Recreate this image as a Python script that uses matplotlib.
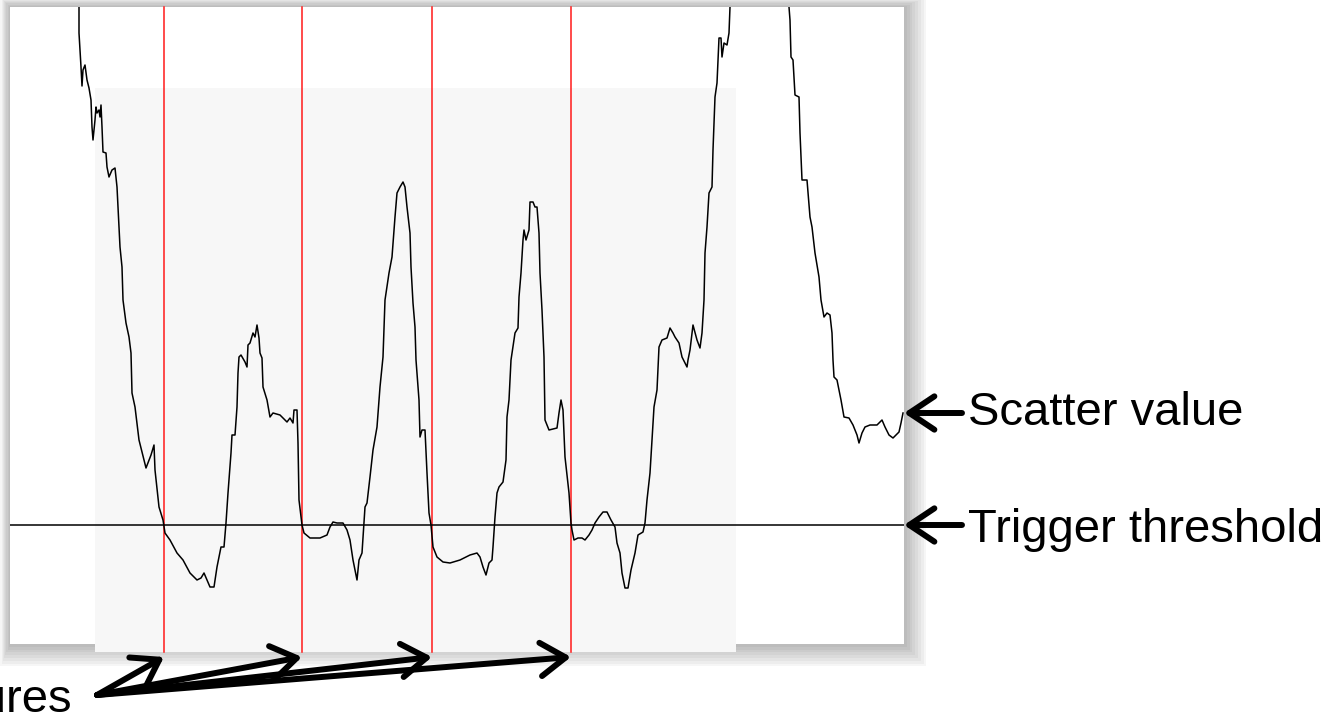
import matplotlib
matplotlib.use("Agg")
import matplotlib.pyplot as plt
from matplotlib.patches import Rectangle

plt.rcParams['font.family'] = ['Liberation Sans', 'DejaVu Sans']

# scatter value trace (sample index, value)
samples = [68, 69, 69, 71, 72, 73, 75, 77, 79, 81, 82, 83, 85, 86, 87, 89, 90, 91, 92, 93,
           96, 97, 99, 102, 105, 107, 109, 110, 112, 113, 116, 119, 121, 122, 125, 129, 136, 141, 144, 145,
           149, 153, 155, 160, 167, 173, 180, 187, 191, 194, 197, 200, 204, 207, 211, 214, 216, 218, 219, 221,
           222, 225, 227, 228, 229, 231, 235, 237, 238, 240, 243, 245, 247, 249, 250, 252, 253, 257, 260, 263,
           270, 277, 280, 283, 284, 287, 288, 289, 291, 292, 294, 300, 310, 317, 320, 323, 327, 333, 337, 340,
           343, 347, 349, 352, 355, 357, 360, 363, 367, 370, 373, 375, 379, 382, 385, 387, 390, 393, 395, 397,
           400, 401, 403, 405, 406, 409, 410, 412, 415, 417, 419, 421, 423, 427, 433, 440, 450, 460, 467, 470,
           473, 476, 479, 482, 483, 485, 487, 489, 493, 496, 497, 499, 501, 505, 508, 509, 511, 513, 514, 516,
           519, 520, 523, 525, 527, 529, 530, 532, 534, 535, 539, 547, 549, 551, 553, 555, 559, 561, 562, 564,
           568, 572, 575, 579, 582, 585, 589, 593, 597, 601, 605, 607, 610, 612, 615, 618, 621, 625, 628, 633,
           635, 637, 640, 642, 644, 647, 649, 652, 657, 660, 663, 665, 669, 672, 677, 678, 680, 683, 687, 690,
           692, 694, 695, 697, 699, 702, 703, 705, 707, 708, 709, 711, 712, 714, 717, 719, 720, 735, 765, 779,
           780, 781, 783, 785, 789, 790, 792, 797, 800, 802, 805, 809, 811, 814, 817, 820, 822, 823, 824, 827,
           831, 834, 839, 843, 847, 849, 852, 855, 860, 867, 872, 875, 879, 883, 886, 889, 891, 893]
values = [680, 637, 611, 577, 558, 574, 579, 564, 556, 544, 517, 504, 524, 537, 531, 534, 527, 539, 517, 492,
          491, 477, 467, 474, 476, 457, 417, 397, 377, 344, 321, 307, 291, 251, 237, 204, 176, 189, 199, 174,
          137, 124, 111, 104, 91, 84, 71, 64, 66, 71, 64, 57, 57, 77, 97, 97, 121, 151, 164, 191,
          209, 209, 237, 271, 287, 289, 282, 277, 299, 301, 311, 307, 319, 306, 291, 286, 257, 244, 227, 231,
          229, 222, 226, 221, 234, 234, 201, 144, 127, 119, 111, 106, 106, 109, 117, 122, 121, 121, 114, 104,
          84, 64, 84, 91, 137, 141, 167, 194, 217, 257, 287, 344, 371, 387, 427, 451, 457, 462, 457, 437,
          411, 377, 341, 317, 284, 244, 207, 214, 214, 171, 131, 119, 97, 87, 82, 81, 84, 89, 91, 87,
          77, 69, 81, 84, 97, 127, 151, 157, 162, 184, 227, 244, 284, 311, 316, 347, 371, 404, 414, 404,
          414, 442, 442, 437, 437, 411, 371, 334, 287, 224, 214, 216, 231, 244, 234, 187, 151, 121, 114, 104,
          106, 106, 104, 109, 114, 121, 127, 132, 132, 124, 117, 101, 91, 71, 56, 56, 74, 91, 109, 112,
          121, 144, 171, 204, 237, 254, 297, 304, 306, 316, 311, 307, 301, 287, 277, 284, 294, 319, 304, 296,
          311, 344, 391, 417, 451, 457, 494, 547, 561, 584, 606, 606, 587, 601, 599, 611, 637, 704, 704, 637,
          624, 587, 584, 549, 547, 511, 464, 464, 427, 417, 391, 367, 344, 327, 331, 329, 311, 284, 267, 264,
          244, 227, 226, 219, 209, 201, 211, 217, 219, 219, 224, 217, 209, 206, 209, 212, 221, 231]

threshold = 119
captures = [154, 292, 422, 561]
window = (85, 726)          # shaded capture window, in samples
labels = ["Scatter value", "Trigger threshold", "Captures"]

fig = plt.figure(figsize=(13.4, 7.24), dpi=100)
W, H = 1340, 724
px0, py0, pw, ph = 10, 80, 894, 637   # panel in figure pixels

# soft drop shadow behind the panel
for i in range(8):
    g = 16 - 2 * i
    fig.patches.append(Rectangle(((px0 - g * 0.6) / W, (py0 - g * 1.4) / H),
                                 (pw + g * 2.0) / W, (ph + g * 2.0) / H,
                                 transform=fig.transFigure, facecolor='black',
                                 alpha=0.035, edgecolor='none', zorder=0))

ax = fig.add_axes([px0 / W, py0 / H, pw / W, ph / H])
ax.set_zorder(3)
ax.set_facecolor('white')
ax.set_xlim(0, pw)
ax.set_ylim(0, ph)
for s in ax.spines.values():
    s.set_visible(False)
ax.set_xticks([])
ax.set_yticks([])

ax.add_patch(Rectangle((window[0], -8), window[1] - window[0], 564,
                       facecolor='#f7f7f7', edgecolor='none', clip_on=False, zorder=1))
ax.axhline(threshold, color='black', lw=1.1, zorder=3)
for c in captures:
    ax.plot([c, c], [-8, ph], color='#ff1a1a', lw=1.1, clip_on=False, zorder=2)
ax.plot(samples, values, color='black', lw=1.1, zorder=4)

aprops = dict(arrowstyle='->,head_length=0.6,head_width=0.4', lw=4.3,
              color='black', mutation_scale=30, shrinkA=0, shrinkB=0)
ax.annotate('', xy=(1.0, values[-1]), xycoords=('axes fraction', 'data'),
            xytext=(962, H - 413), textcoords='figure pixels', arrowprops=aprops,
            annotation_clip=False)
ax.annotate('', xy=(1.0, threshold), xycoords=('axes fraction', 'data'),
            xytext=(962, H - 525), textcoords='figure pixels', arrowprops=aprops,
            annotation_clip=False)
for c in captures:
    ax.annotate('', xy=(c, -13), xycoords='data',
                xytext=(97, H - 695), textcoords='figure pixels', arrowprops=aprops,
                annotation_clip=False)

fig.text(968 / W, (H - 413) / H, labels[0], fontsize=34, va='center', ha='left', zorder=5)
fig.text(968 / W, (H - 530) / H, labels[1], fontsize=34, va='center', ha='left', zorder=5)
fig.text(72 / W, (H - 712) / H, labels[2], fontsize=34, va='baseline', ha='right', zorder=5)

fig.savefig('out.png', dpi=100)
